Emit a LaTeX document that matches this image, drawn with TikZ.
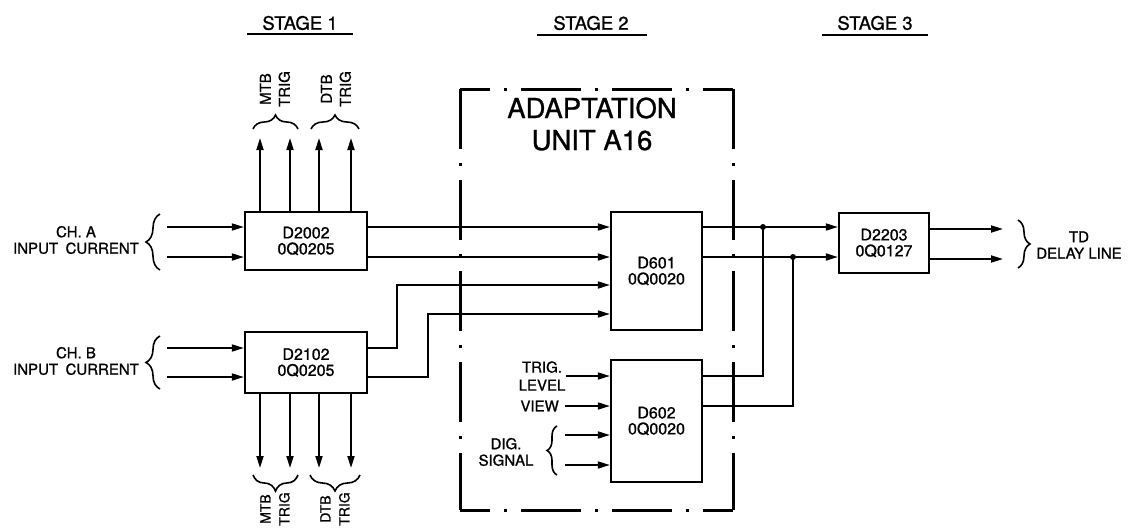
\documentclass[tikz,border=0pt]{standalone}
\usepackage{fontspec}
\setmainfont{TeX Gyre Heros}[FakeBold=1]
\usetikzlibrary{arrows.meta,decorations.pathreplacing,calc}
\begin{document}
\begin{tikzpicture}[x=1pt,y=-1pt,
  wire/.style={line width=1.8pt},
  arr/.style={wire,-{Triangle[length=12pt,width=7pt]}},
  blk/.style={draw,line width=2.3pt,rectangle,inner sep=0pt,align=center,
    font=\fontsize{16}{16}\selectfont},
  lbl/.style={align=center,inner sep=0pt,font=\fontsize{15}{16.5}\selectfont},
  rlbl/.style={align=center,inner sep=0pt,rotate=90,font=\fontsize{15}{19}\selectfont},
  stg/.style={inner sep=0pt,font=\fontsize{18.5}{20}\selectfont},
  brc/.style={decorate,decoration={brace,amplitude=#1},line width=1.6pt},
  brc/.default=13pt,
  unitline/.style={line width=3pt,dash pattern=on 60pt off 14pt on 3pt off 14pt,dash phase=30pt},
  unitvline/.style={line width=3pt,dash pattern=on 60pt off 14pt on 3pt off 14pt,dash phase=0pt},
  jdot/.style={circle,fill,inner sep=0pt,minimum size=6pt}]
\clip (0,0) rectangle (1128,528);
\useasboundingbox (0,0) rectangle (1128,528);

% stage headings
\node[stg] (s1) at (300,23) {STAGE 1};
\node[stg] (s2) at (591,23) {STAGE 2};
\node[stg] (s3) at (875,23) {STAGE 3};
\coordinate (s1a) at (247,34); \coordinate (s1b) at (353,34);
\coordinate (s2a) at (537,35); \coordinate (s2b) at (647,35);
\coordinate (s3a) at (822,35); \coordinate (s3b) at (928,35);
\draw[line width=1.6pt] (s1a) -- (s1b);
\draw[line width=1.6pt] (s2a) -- (s2b);
\draw[line width=1.6pt] (s3a) -- (s3b);

% adaptation unit frame
\coordinate (u1) at (460,89); \coordinate (u2) at (733,89);
\coordinate (u3) at (733,510); \coordinate (u4) at (460,510);
\draw[unitline] (u1) -- (u2);
\draw[unitvline] (u2) -- (u3);
\draw[unitline] (u4) -- (u3);
\draw[unitvline] (u1) -- (u4);
\node[inner sep=0pt,align=center,font=\fontsize{27.5}{32}\selectfont] (unit) at (592,124) {ADAPTATION\\UNIT A16};

% blocks
\node[blk,minimum width=122pt,minimum height=58pt] (D2002) at (306,241) {D2002\\0Q0205};
\node[blk,minimum width=122pt,minimum height=61pt] (D2102) at (306,362.5) {D2102\\0Q0205};
\node[blk,minimum width=91pt,minimum height=118pt] (D601) at (656.5,271) {D601\\0Q0020};
\node[blk,minimum width=91pt,minimum height=122pt] (D602) at (656.5,421) {D602\\0Q0020};
\node[blk,minimum width=90pt,minimum height=60pt] (D2203) at (884,243) {D2203\\0Q0127};

% row and column helpers
\coordinate (r1) at (0,227);
\coordinate (r2) at (0,257);
\coordinate (r3) at (0,285);
\coordinate (r4) at (0,314);
\coordinate (rb1) at (0,348);
\coordinate (rb2) at (0,377);
\coordinate (rd1) at (0,376);
\coordinate (rd2) at (0,406);
\coordinate (rd3) at (0,435);
\coordinate (rd4) at (0,465);

% CH A inputs
\coordinate (ia1) at (167,227); \coordinate (ia2) at (167,257);
\draw[arr] (ia1) -- (D2002.west |- r1);
\draw[arr] (ia2) -- (D2002.west |- r2);
\draw[brc=14pt] (160,270) -- (160,214);
\node[lbl] (cha) at (76,240) {CH. A\\INPUT\enspace CURRENT};

% CH B inputs
\coordinate (ib1) at (167,348); \coordinate (ib2) at (167,377);
\draw[arr] (ib1) -- (D2102.west |- rb1);
\draw[arr] (ib2) -- (D2102.west |- rb2);
\draw[brc=14pt] (160,389) -- (160,336);
\node[lbl] (chb) at (76,361) {CH. B\\INPUT\enspace CURRENT};

% trigger outputs up
\coordinate (t1) at (260,138); \coordinate (t2) at (290,138);
\coordinate (t3) at (319,138); \coordinate (t4) at (351,138);
\draw[arr] (D2002.north -| t1) -- (t1);
\draw[arr] (D2002.north -| t2) -- (t2);
\draw[arr] (D2002.north -| t3) -- (t3);
\draw[arr] (D2002.north -| t4) -- (t4);
\draw[brc=14pt] (253,129) -- (298,129);
\draw[brc=14pt] (311,129) -- (359,129);
\node[rlbl] (mtbu) at (275,89) {MTB\\TRIG};
\node[rlbl] (dtbu) at (336,89) {DTB\\TRIG};

% trigger outputs down
\coordinate (b1) at (260,468); \coordinate (b2) at (290,468);
\coordinate (b3) at (319,468); \coordinate (b4) at (351,468);
\draw[arr] (D2102.south -| b1) -- (b1);
\draw[arr] (D2102.south -| b2) -- (b2);
\draw[arr] (D2102.south -| b3) -- (b3);
\draw[arr] (D2102.south -| b4) -- (b4);
\draw[brc=16pt] (298,475) -- (253,475);
\draw[brc=16pt] (360,475) -- (310,475);
\node[rlbl,font=\fontsize{14}{19}\selectfont] (mtbd) at (275,509) {MTB\\TRIG};
\node[rlbl,font=\fontsize{14}{19}\selectfont] (dtbd) at (335,509) {DTB\\TRIG};

% stage 1 -> stage 2
\draw[arr] (D2002.east |- r1) -- (D601.west |- r1);
\draw[arr] (D2002.east |- r2) -- (D601.west |- r2);
\coordinate (k1) at (397,0); \coordinate (k2) at (428,0);
\draw[arr] (D2102.east |- rb1) -| (k1 |- r3) -- (D601.west |- r3);
\draw[arr] (D2102.east |- rb2) -| (k2 |- r4) -- (D601.west |- r4);

% D602 inputs
\coordinate (i1) at (566,376); \coordinate (i2) at (565,406);
\coordinate (i3) at (565,435); \coordinate (i4) at (565,465);
\draw[arr] (i1) -- (D602.west |- rd1);
\draw[arr] (i2) -- (D602.west |- rd2);
\draw[arr] (i3) -- (D602.west |- rd3);
\draw[arr] (i4) -- (D602.west |- rd4);
\node[lbl,font=\fontsize{15}{18}\selectfont] (trig) at (542,376) {TRIG.\\LEVEL};
\node[lbl,anchor=east] (view) at (559,406) {VIEW};
\draw[brc=10pt] (557,475) -- (557,426);
\node[lbl] (dig) at (506,452) {DIG.\\SIGNAL};

% stage 2 -> stage 3
\coordinate (j1) at (763,227); \coordinate (j2) at (793,257);
\draw[arr] (D601.east |- r1) -- (D2203.west |- r1);
\draw[arr] (D601.east |- r2) -- (D2203.west |- r2);
\draw[wire] (D602.east |- rd1) -| (j1);
\draw[wire] (D602.east |- rd2) -| (j2);
\node[jdot] (dot1) at (j1) {};
\node[jdot] (dot2) at (j2) {};

% outputs
\coordinate (o1) at (1003,229); \coordinate (o2) at (1003,259);
\draw[arr] (D2203.east |- o1) -- (o1);
\draw[arr] (D2203.east |- o2) -- (o2);
\draw[brc=12pt] (1018,220) -- (1018,268);
\node[lbl] (td) at (1079,245) {TD\\DELAY LINE};
\end{tikzpicture}
\end{document}
